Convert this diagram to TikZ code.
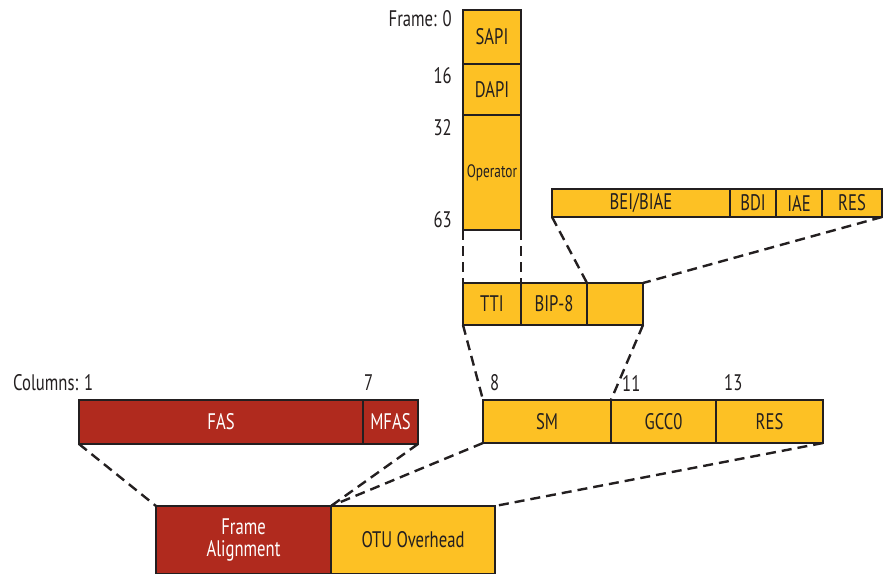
\documentclass[tikz,border=0pt]{standalone}
\usepackage{fontspec}
\setmainfont{PT Sans}[FakeStretch=0.74]
\usetikzlibrary{positioning}
\definecolor{otured}{RGB}{176,42,30}
\definecolor{otuyellow}{RGB}{253,193,36}
\definecolor{ink}{RGB}{35,31,32}
\tikzset{field/.style={draw=ink, line width=2.5pt, fill=otuyellow, text=ink,
                       anchor=north west, inner sep=0pt, outer sep=0pt,
                       font=\fontsize{22.5}{22}\selectfont},
         redfield/.style={field, fill=otured, text=white},
         numlabel/.style={inner sep=0pt, text=ink, font=\fontsize{22.5}{22}\selectfont},
         link/.style={draw=ink, line width=2.4pt, dash pattern=on 10pt off 6pt}}

\begin{document}
\begin{tikzpicture}[x=1pt, y=-1pt]
                \useasboundingbox (0,0) rectangle (883,573);
                \node[field, minimum width=58pt, minimum height=54pt] (sapi) at (463,10) {SAPI};
                \node[field, minimum width=58pt, minimum height=51pt, below=0pt of sapi] (dapi) {DAPI};
                \node[field, minimum width=58pt, minimum height=115pt, below=0pt of dapi,
                      font=\fontsize{18}{18}\selectfont] (oper) {Operator};
                \node[numlabel, anchor=east] (frame0) at (452,19) {Frame: 0};
                \node[numlabel, anchor=east] (frame16) at (452,76) {16};
                \node[numlabel, anchor=east] (frame32) at (452,128) {32};
                \node[numlabel, anchor=east] (frame63) at (452,220) {63};

                \node[field, minimum width=178pt, minimum height=28pt] (bei) at (552,189) {BEI/BIAE};
                \node[field, minimum width=46pt, minimum height=28pt, right=0pt of bei] (bdi) {BDI};
                \node[field, minimum width=46pt, minimum height=28pt, right=0pt of bdi] (iae) {IAE};
                \node[field, minimum width=60pt, minimum height=28pt, right=0pt of iae] (resbyte) {RES};

                \node[field, minimum width=58pt, minimum height=42pt] (tti) at (463,283) {TTI};
                \node[field, minimum width=66pt, minimum height=42pt, right=0pt of tti] (bip) {BIP-8};
                \node[field, minimum width=56pt, minimum height=42pt, right=0pt of bip] (smbyte) {};

                \node[redfield, minimum width=284pt, minimum height=44pt] (fas) at (79,400) {FAS};
                \node[redfield, minimum width=55pt, minimum height=44pt, right=0pt of fas] (mfas) {MFAS};
                \node[numlabel, anchor=west] (col1) at (13,383) {Columns: 1};
                \node[numlabel, anchor=west] (col7) at (364,383) {7};

                \node[field, minimum width=128pt, minimum height=43pt] (sm) at (483,400) {SM};
                \node[field, minimum width=105pt, minimum height=43pt, right=0pt of sm] (gcc) {GCC0};
                \node[field, minimum width=107pt, minimum height=43pt, right=0pt of gcc] (rescol) {RES};
                \node[numlabel, anchor=west] (col8) at (490,383) {8};
                \node[numlabel, anchor=west] (col11) at (622,383) {11};
                \node[numlabel, anchor=west] (col13) at (724,383) {13};

                \node[redfield, minimum width=175pt, minimum height=68pt, align=center] (framealign) at (156,506) {Frame\\Alignment};
                \node[field, minimum width=164pt, minimum height=68pt, right=0pt of framealign] (otuoh) {OTU Overhead};

                \draw[link] (oper.south west) -- (tti.north west);
                \draw[link] (oper.south east) -- (tti.north east);
                \draw[link] (bei.south west) -- (smbyte.north west);
                \draw[link] (resbyte.south east) -- (smbyte.north east);
                \draw[link] (tti.south west) -- (sm.north west);
                \draw[link] (smbyte.south east) -- (gcc.north west);
                \draw[link] (fas.south west) -- (framealign.north west);
                \draw[link] (mfas.south east) -- (framealign.north east);
                \draw[link] (sm.south west) -- (otuoh.north west);
                \draw[link] (rescol.south east) -- (otuoh.north east);
\end{tikzpicture}
\end{document}
